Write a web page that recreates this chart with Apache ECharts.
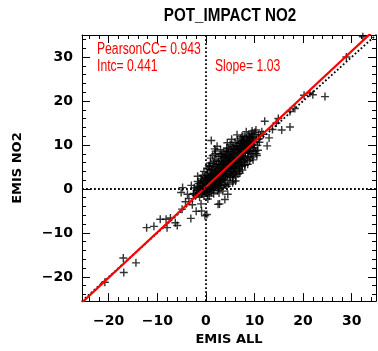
<!DOCTYPE html>
<html><head><meta charset="utf-8">
<script src="https://cdn.jsdelivr.net/npm/echarts@6/dist/echarts.min.js"></script>
<style>html,body{margin:0;padding:0;background:#fff}#c{width:378px;height:351px}</style>
</head><body><div id="c"></div>
<script>
const titleText = 'POT_IMPACT NO2';
const xName = 'EMIS ALL';
const yName = 'EMIS NO2';
const axisMin = -25.5, axisMax = 35;
const pearson = 0.943, intercept = 0.441, slope = 1.03;

const outliersLow = [[-20.8,-21.2],[-17.0,-15.7],[-14.4,-16.8],[-16.9,-19.0],[-12.2,-8.8],[-10.7,-8.5],[-9.4,-6.9],[-8.2,-6.9],[-8.0,-8.8],[-7.3,-6.6],[-5.9,-8.3],[-6.3,-7.7],[-4.9,-4.6],[-4.2,-2.9],[-3.1,-6.7],[-2.0,-5.1],[-5.1,-0.8],[-0.2,-6.1],[-0.9,-5.0],[0.2,-5.8],[2.5,-3.5],[3.9,-2.4],[-2.8,-3.6],[-3.5,-2.2],[-2.5,-1.0],[-3.0,0.8],[-4.8,0.3],[-3.8,-1.2],[-1.0,-3.4],[0.4,-2.3],[2.8,-3.4],[4.5,-1.2]];
const clusterA = [[-2.1,-1.5],[-1.8,0.4],[-1.6,-0.8],[-1.5,1.2],[-1.3,-1.9],[-1.2,0.1],[-1.0,2.3],[-0.9,-1.1],[-0.8,0.8],[-0.7,3.1],[-0.6,-0.4],[-0.5,1.6],[-0.4,-1.6],[-0.3,0.5],[-0.2,2.7],[-0.1,-0.9],[0.0,1.1],[-1.9,-0.3],[-1.4,0.6],[-0.9,1.9],[-0.6,0.2],[-0.3,-0.2],[-1.1,-0.6],[-0.8,-0.1],[-0.4,4.0],[-1.7,1.7],[-2.4,0.2],[-2.6,-1.2],[-1.7,2.9]];
const clusterB = [[0.1,0.3],[0.2,2.1],[0.3,-1.3],[0.4,3.6],[0.5,0.9],[0.6,-0.5],[0.7,1.7],[0.8,4.4],[0.9,0.1],[1.0,2.6],[1.1,-0.8],[1.2,1.3],[1.3,5.1],[1.4,0.6],[1.5,3.2],[1.6,-1.1],[1.7,2.0],[1.8,6.3],[1.9,1.1],[2.0,3.9],[0.2,-0.6],[0.5,2.8],[0.8,1.0],[1.1,3.3],[1.4,4.2],[1.7,0.4],[1.9,5.0],[0.3,1.5],[0.6,5.3],[1.0,7.0],[1.2,0.0],[1.6,2.7],[0.9,3.0],[0.4,0.4],[1.3,1.9],[1.8,3.5],[0.7,-1.6],[1.5,-0.3],[0.7,5.1],[1.1,11.0],[1.8,9.1]];
const clusterC = [[2.1,0.9],[2.2,2.6],[2.3,4.7],[2.4,-0.4],[2.5,3.1],[2.6,6.2],[2.7,1.6],[2.8,4.0],[2.9,7.8],[3.0,2.3],[3.1,5.4],[3.2,0.4],[3.3,3.6],[3.4,6.9],[3.5,1.9],[3.6,4.6],[3.7,8.4],[3.8,2.8],[3.9,5.7],[4.0,0.9],[2.2,5.5],[2.5,1.2],[2.8,2.9],[3.0,8.9],[3.3,4.9],[3.6,3.0],[3.9,7.2],[2.4,3.8],[2.7,-0.9],[3.1,1.5],[3.4,2.4],[3.7,6.0],[2.0,8.6],[2.3,9.7],[2.6,0.1],[3.5,-0.5],[3.8,1.0],[2.9,5.0],[3.2,7.4],[3.6,5.5]];
const clusterD = [[4.1,3.4],[4.2,6.3],[4.3,9.3],[4.4,2.0],[4.5,4.8],[4.6,7.6],[4.7,1.1],[4.8,3.9],[4.9,6.8],[5.0,10.1],[5.1,2.6],[5.2,5.6],[5.3,8.4],[5.4,4.1],[5.5,6.9],[5.6,1.8],[5.7,5.0],[5.8,8.9],[5.9,3.2],[6.0,6.2],[4.2,4.4],[4.5,8.5],[4.8,5.3],[5.1,7.2],[5.4,9.6],[5.7,3.7],[6.0,10.6],[4.3,0.6],[4.6,5.9],[4.9,2.7],[5.2,4.0],[5.5,8.0],[5.8,6.0],[4.4,10.5],[4.7,6.4],[5.0,4.6],[5.3,11.3],[5.6,7.7],[5.9,5.1],[4.1,7.9],[5.5,1.4],[6.1,1.8]];
const clusterE = [[6.1,4.5],[6.2,7.4],[6.3,9.8],[6.4,5.6],[6.5,8.3],[6.6,3.4],[6.7,6.6],[6.8,10.4],[6.9,7.9],[7.0,5.2],[7.1,9.1],[7.2,11.5],[7.3,6.8],[7.4,8.6],[7.5,4.3],[7.6,7.5],[7.7,10.2],[7.8,9.0],[7.9,6.1],[8.0,11.9],[6.2,2.8],[6.5,11.1],[6.8,5.0],[7.1,7.0],[7.4,12.0],[7.7,8.1],[8.0,5.4],[6.3,6.3],[6.6,8.9],[6.9,4.0],[7.2,9.6],[7.5,10.8],[7.8,7.3],[6.4,12.3],[7.0,3.6],[7.3,5.9],[7.6,11.8],[7.9,9.5],[8.0,5.5]];
const clusterF = [[8.1,8.2],[8.2,10.0],[8.3,6.7],[8.4,11.1],[8.5,9.1],[8.6,7.4],[8.7,12.2],[8.8,10.6],[8.9,8.5],[9.0,6.4],[9.1,11.6],[9.2,9.7],[9.3,12.6],[9.4,8.0],[9.5,10.9],[9.6,7.3],[9.7,11.8],[9.8,9.4],[9.9,12.4],[10.0,10.2],[10.2,8.6],[10.4,11.3],[10.6,9.9],[10.8,12.0],[11.0,10.6],[8.3,13.0],[8.9,11.7],[9.5,13.2],[10.1,12.9],[10.5,7.6],[8.6,5.6],[9.2,7.0],[9.9,9.1],[10.3,13.4],[10.9,11.4],[11.2,12.3],[11.5,13.0],[8.2,9.3],[9.0,10.3],[9.7,8.6],[10.7,8.8],[9.7,6.6],[8.4,11.3],[10.4,8.0],[9.0,11.9]];
const clusterCore = [[-1.4,-0.4],[-1.1,1.4],[-0.7,-0.9],[-0.5,0.7],[-0.2,1.9],[0.1,-0.2],[0.2,3.0],[0.4,1.2],[0.6,2.4],[0.8,0.2],[1.0,1.6],[1.1,4.3],[1.3,0.9],[1.5,2.2],[1.6,5.8],[1.8,1.6],[2.0,2.9],[2.1,6.6],[2.2,1.9],[2.4,4.5],[2.5,7.4],[2.6,3.3],[2.7,5.6],[2.9,2.0],[3.0,4.2],[3.1,6.4],[3.2,3.1],[3.3,8.0],[3.4,4.4],[3.5,5.9],[3.6,2.2],[3.7,7.3],[3.8,4.1],[3.9,6.5],[4.0,3.0],[4.1,5.2],[4.2,8.6],[4.3,4.0],[4.4,6.9],[4.5,3.1],[4.6,5.4],[4.7,9.1],[4.8,4.7],[4.9,7.5],[5.0,3.5],[5.1,6.0],[5.2,8.9],[5.3,5.3],[5.4,7.1],[5.5,3.0],[5.6,6.3],[5.7,9.7],[5.8,4.7],[5.9,7.4],[6.0,8.6],[6.1,5.8],[6.2,9.2],[6.3,4.1],[6.4,7.0],[6.5,9.9],[6.6,6.0],[6.7,8.2],[6.8,4.6],[6.9,9.4],[7.0,7.1],[7.1,10.4],[7.2,6.1],[7.3,8.9],[7.4,5.1],[7.5,9.9],[7.6,6.4],[7.7,11.0],[7.8,8.4],[7.9,10.6],[8.1,7.1],[8.3,9.9],[8.5,10.6],[8.7,8.1],[8.9,9.8],[9.1,8.7],[9.3,10.7],[9.6,11.6],[0.3,4.6],[0.9,5.9],[1.4,7.6],[1.9,8.0],[0.0,2.5],[-0.6,1.3],[2.3,0.6],[3.0,0.8]];
const outliersHigh = [[12.1,15.4],[14.5,15.0],[14.9,16.0],[17.3,14.1],[13.7,13.5],[11.8,12.4],[13.0,11.6],[12.6,9.8],[15.6,13.4],[18.3,18.3],[17.3,17.6],[20.2,21.3],[21.4,21.8],[22.0,21.4],[24.5,21.0],[28.9,30.0],[32.3,34.6]];

const points = [].concat(outliersLow, clusterA, clusterB, clusterC, clusterD, clusterE, clusterF, clusterCore, outliersHigh);
const oneToOne = [[axisMin, axisMin], [axisMax, axisMax]];
const fitLine = [[axisMin, intercept + slope * axisMin], [axisMax, intercept + slope * axisMax]];

const chart = echarts.init(document.getElementById('c'), null, {renderer: 'canvas'});
const fmt = v => String(v).replace('-', '\u2212');
const labelStyle = {show: true, color: '#000', fontFamily: 'DejaVu Sans', fontWeight: 'bold', fontSize: 14, showMinLabel: false, showMaxLabel: false, formatter: fmt};
function ax(extra) {
  return Object.assign({
    type: 'value', min: axisMin, max: axisMax, splitNumber: 6,
    axisLine: {show: true, onZero: false, lineStyle: {color: '#000', width: 1}},
    axisTick: {show: true, inside: true, length: 8, lineStyle: {color: '#000', width: 1}},
    minorTick: {show: true, splitNumber: 5, length: 4, lineStyle: {color: '#000', width: 1}},
    splitLine: {show: false}
  }, extra, {axisLabel: Object.assign({}, labelStyle, extra.axisLabel || {})});
}
const redFont = '16px "Liberation Sans"';
const dotted = {color: '#000', width: 1.8, type: [1.8, 2.2]};

chart.setOption({
  animation: false,
  backgroundColor: '#fff',
  grid: {left: 82, right: 2, top: 35, bottom: 44, containLabel: false},
  xAxis: [
    ax({position: 'bottom', name: xName, nameLocation: 'middle', nameGap: 29,
      nameTextStyle: {fontFamily: 'DejaVu Sans', fontWeight: 'bold', fontSize: 13, color: '#000'},
      axisLabel: {margin: 13}}),
    ax({position: 'top', axisLabel: {show: false}})
  ],
  yAxis: [
    ax({position: 'left', name: yName, nameLocation: 'middle', nameGap: 58, nameRotate: 90,
      nameTextStyle: {fontFamily: 'DejaVu Sans', fontWeight: 'bold', fontSize: 13, color: '#000'},
      axisLabel: {margin: 9}}),
    ax({position: 'right', axisLabel: {show: false}})
  ],
  graphic: [
    {type: 'text', x: 230, y: 6, scaleX: 0.8, style: {text: titleText, fill: '#000', align: 'center', font: 'bold 19px "Liberation Sans"'}},
    {type: 'text', x: 97, y: 42, scaleX: 0.76, style: {text: 'PearsonCC= ' + pearson.toFixed(3), fill: '#ff0000', font: redFont}},
    {type: 'text', x: 97, y: 59, scaleX: 0.76, style: {text: 'Intc= ' + intercept.toFixed(3), fill: '#ff0000', font: redFont}},
    {type: 'text', x: 215, y: 59, scaleX: 0.76, style: {text: 'Slope= ' + slope.toFixed(2), fill: '#ff0000', font: redFont}}
  ],
  series: [
    {type: 'scatter', data: points, symbol: 'path://M0,5L10,5M5,0L5,10', symbolSize: 8,
      itemStyle: {color: 'rgba(0,0,0,0)', borderColor: '#000', borderWidth: 1.4}, z: 3},
    {type: 'line', data: oneToOne, showSymbol: false, symbol: 'none', clip: true,
      lineStyle: dotted, z: 2,
      markLine: {silent: true, symbol: 'none', label: {show: false}, lineStyle: dotted,
        data: [{xAxis: 0}, {yAxis: 0}]}},
    {type: 'line', data: fitLine, showSymbol: false, symbol: 'none', clip: true,
      lineStyle: {color: '#ff0000', width: 2.2}, z: 4}
  ]
});
</script></body></html>
